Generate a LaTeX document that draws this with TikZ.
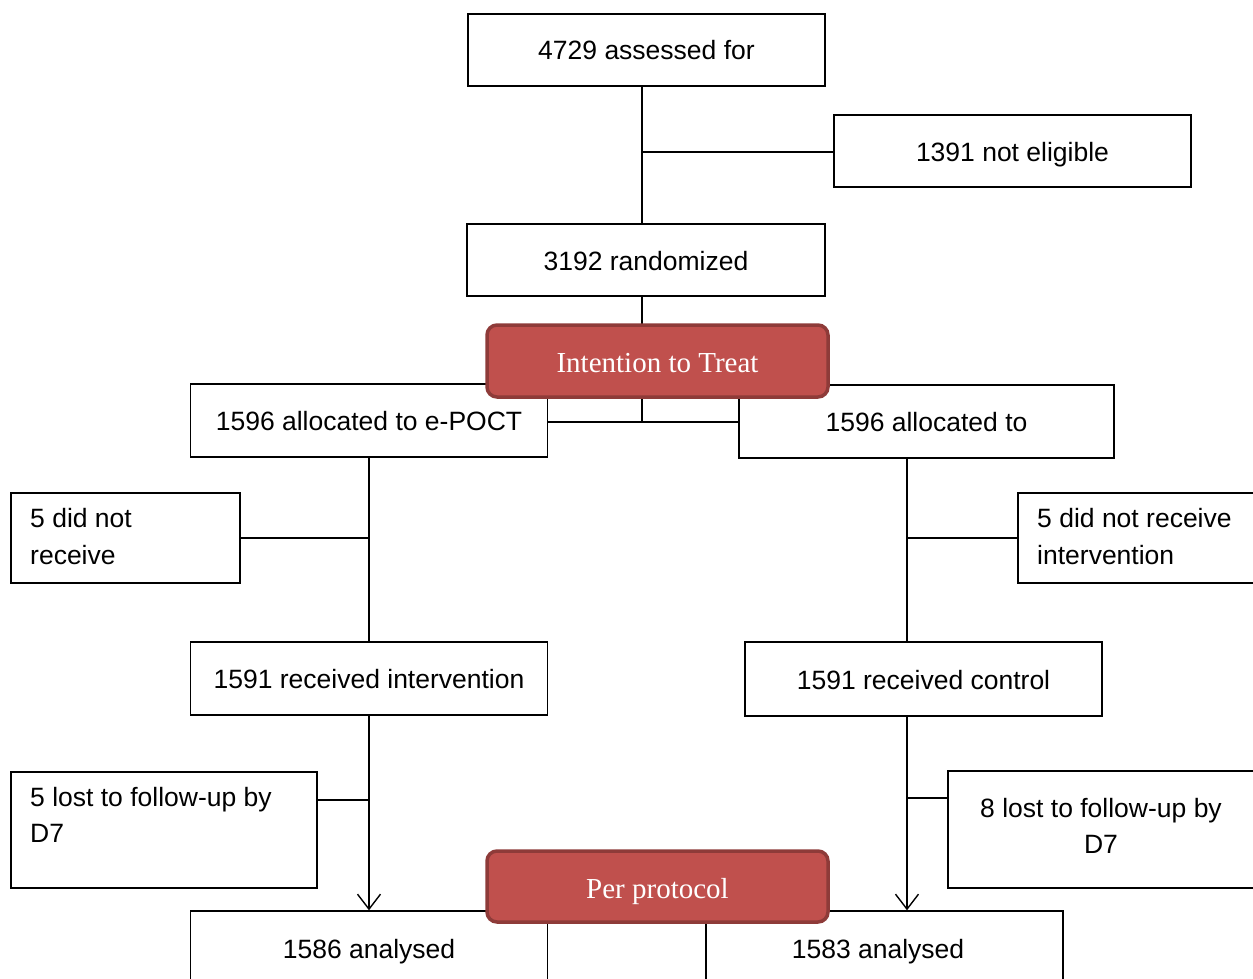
\documentclass[tikz,border=0pt]{standalone}
\usepackage{fontspec}
\setmainfont{Liberation Sans}
\newfontfamily\bannerfont{Liberation Serif}
\usetikzlibrary{arrows.meta}
\definecolor{bannerfill}{HTML}{C0504D}
\definecolor{bannerline}{HTML}{8E3B39}

\begin{document}
\begin{tikzpicture}[x=1pt,y=-1pt,
  box/.style={draw=black, line width=1.4pt, fill=white, inner sep=0pt,
              text height=21pt, text depth=1pt,
              font=\fontsize{26.5}{36.5}\selectfont},
  lbl/.style={inner sep=0pt, font=\fontsize{26.5}{36.5}\selectfont},
  link/.style={line width=1.4pt},
  flow/.style={link, -{Straight Barb[length=15pt,width=23pt,line width=1.4pt]}},
  banner/.style={rounded corners=10pt, fill=bannerfill, draw=bannerline,
                 line width=3.5pt, text=white, inner sep=0pt,
                 text height=23pt, text depth=0pt,
                 font=\bannerfont\fontsize{29}{34}\selectfont}]
\useasboundingbox (0,0) rectangle (1253,979);
\clip (0,0) rectangle (1253,979);

% screening and randomisation
\node[box, minimum width=357, minimum height=72] (A) at (646.5,50) {4729 assessed for};
\node[box, minimum width=357, minimum height=72] (B) at (1012.5,151) {1391 not eligible};
\node[box, minimum width=358, minimum height=72] (C) at (646,260) {3192 randomized};

% allocation
\node[box, minimum width=357, minimum height=73] (D) at (369,420.5) {1596 allocated to e-POCT};
\node[box, minimum width=375, minimum height=73] (E) at (926.5,421.5) {1596 allocated to};

% exclusions after allocation
\node[box, minimum width=229, minimum height=90] (F) at (125.5,538) {};
\node[lbl, anchor=north west, align=left] (Ft) at (30,508.5) {5 did not\\receive};
\node[box, minimum width=272, minimum height=90] (H) at (1154,538) {};
\node[lbl, anchor=north west, align=left] (Ht) at (1037,508.5) {5 did not receive\\intervention};

% received
\node[box, minimum width=357, minimum height=73] (G) at (369,678.5) {1591 received intervention};
\node[box, minimum width=357, minimum height=74] (I) at (923.5,679) {1591 received control};

% losses to follow-up
\node[box, minimum width=306, minimum height=116] (J) at (164,830) {};
\node[lbl, anchor=north west, align=left] (Jt) at (30,787) {5 lost to follow-up by\\D7};
\node[box, minimum width=352, minimum height=117] (K) at (1124,829.5) {};
\node[lbl, anchor=north, align=center] (Kt) at (1101,798) {8 lost to follow-up by\\D7};

% analysed
\node[box, minimum width=357, minimum height=74] (L) at (369,948) {1586 analysed};
\node[box, minimum width=357, minimum height=74] (M) at (884.5,948) {};
\node[lbl, text height=21pt, text depth=1pt] (Mt) at (878,948) {1583 analysed};

% connectors
\coordinate (trunk) at (642,152);
\coordinate (split) at (642,422);
\coordinate (rx) at (907,0);
\coordinate (jlink) at (317,800);
\coordinate (klink) at (948,798);

\draw[link] (A.south -| trunk) -- (C.north -| trunk);
\draw[link] (trunk) -- (B.west |- trunk);
\draw[link] (C.south -| trunk) -- (split);
\draw[link] (D.east |- split) -- (E.west |- split);

\draw[link] (D.south) -- (G.north);
\draw[link] (F.east) -- (F.east -| D.south);
\draw[link] (E.south -| rx) -- (I.north -| rx);
\draw[link] (H.west) -- (H.west -| rx);

\draw[flow] (G.south) -- (L.north);
\draw[line width=2.8pt] (jlink) -- (jlink -| G.south);
\draw[flow] (I.south -| rx) -- (M.north -| rx);
\draw[link] (klink) -- (klink -| rx);

% analysis-set banners
\node[banner, minimum width=341, minimum height=72] (itt) at (657.5,361) {Intention to Treat};
\node[banner, minimum width=341, minimum height=71] (pp) at (657.5,886.5) {Per protocol};
\end{tikzpicture}
\end{document}
